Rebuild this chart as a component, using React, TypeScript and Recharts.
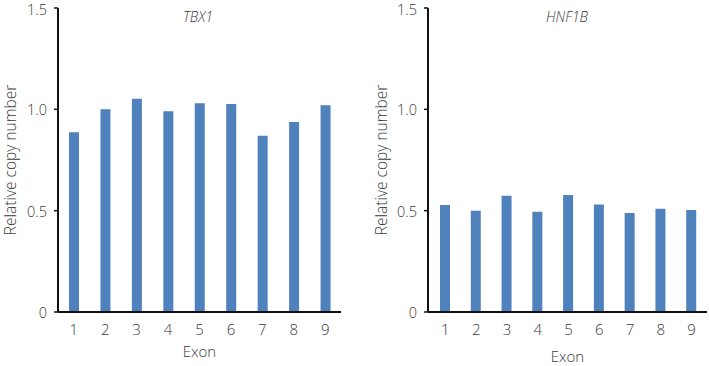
import React from "react";
import { BarChart, Bar, XAxis, YAxis, Label } from "recharts";

const exons = ["1", "2", "3", "4", "5", "6", "7", "8", "9"];
const tbx1Values = [0.887, 1.0, 1.052, 0.99, 1.03, 1.026, 0.87, 0.937, 1.02];
const hnf1bValues = [0.528, 0.5, 0.574, 0.495, 0.577, 0.53, 0.489, 0.51, 0.503];
const yTicks = [0, 0.5, 1.0, 1.5];
const titles = ["TBX1", "HNF1B"];

const FONT = "'Open Sans', sans-serif";
const TEXT = "#3a3a3a";
const BAR = "#4f81bd";

const fmt = (v: number) => (v === 0 ? "0" : v.toFixed(1));

type PanelProps = {
  values: number[];
  title: string;
  left: number;
  width: number;
  yAxisWidth: number;
  rightMargin: number;
  padLeft: number;
  yLabelOffset: number;
  exonOffset: number;
  titleX: number;
};

function Panel(p: PanelProps) {
  const data = exons.map((e, i) => ({ exon: e, value: p.values[i] }));
  return (
    <div style={{ position: "absolute", left: p.left, top: 0 }}>
      <BarChart
        width={p.width}
        height={366}
        data={data}
        margin={{ top: 8, right: p.rightMargin, bottom: 0, left: 0 }}
        style={{ fontFamily: FONT }}
      >
        <XAxis
          dataKey="exon"
          height={54}
          tickLine={false}
          tickMargin={6}
          padding={{ left: p.padLeft, right: 0 }}
          axisLine={{ stroke: "#111", strokeWidth: 2 }}
          tick={{ fill: TEXT, fontSize: 15, fontWeight: 300 }}
        >
          <Label
            value="Exon"
            position="insideBottom"
            offset={p.exonOffset}
            style={{ fill: TEXT, fontSize: 15, fontWeight: 300, fontFamily: FONT }}
          />
        </XAxis>
        <YAxis
          width={p.yAxisWidth}
          domain={[0, 1.5]}
          ticks={yTicks}
          tickFormatter={fmt}
          tickSize={4}
          tickMargin={7}
          axisLine={{ stroke: "#111", strokeWidth: 2 }}
          tickLine={{ stroke: "#111", strokeWidth: 1.5 }}
          tick={{ fill: TEXT, fontSize: 14.5, fontWeight: 300, dy: 1 }}
        >
          <Label
            value="Relative copy number"
            angle={-90}
            position="insideLeft"
            offset={p.yLabelOffset}
            style={{ textAnchor: "middle", fill: TEXT, fontSize: 15.5, fontWeight: 300, fontFamily: FONT }}
          />
        </YAxis>
        <Bar dataKey="value" fill={BAR} barSize={10} isAnimationActive={false} />
        <text
          x={p.titleX}
          y={22}
          textAnchor="middle"
          fontStyle="italic"
          fontSize={14}
          fontWeight={300}
          fill={TEXT}
          fontFamily={FONT}
        >
          {p.title}
        </text>
      </BarChart>
    </div>
  );
}

export default function App() {
  return (
    <div style={{ position: "absolute", left: 0, top: 0, width: 709, height: 366, background: "#fff" }}>
      <Panel
        values={tbx1Values}
        title={titles[0]}
        left={0}
        width={360}
        yAxisWidth={58}
        rightMargin={19}
        padLeft={0}
        yLabelOffset={10}
        exonOffset={9}
        titleX={198}
      />
      <Panel
        values={hnf1bValues}
        title={titles[1]}
        left={360}
        width={349}
        yAxisWidth={68}
        rightMargin={2}
        padLeft={2}
        yLabelOffset={21}
        exonOffset={4}
        titleX={207}
      />
    </div>
  );
}
